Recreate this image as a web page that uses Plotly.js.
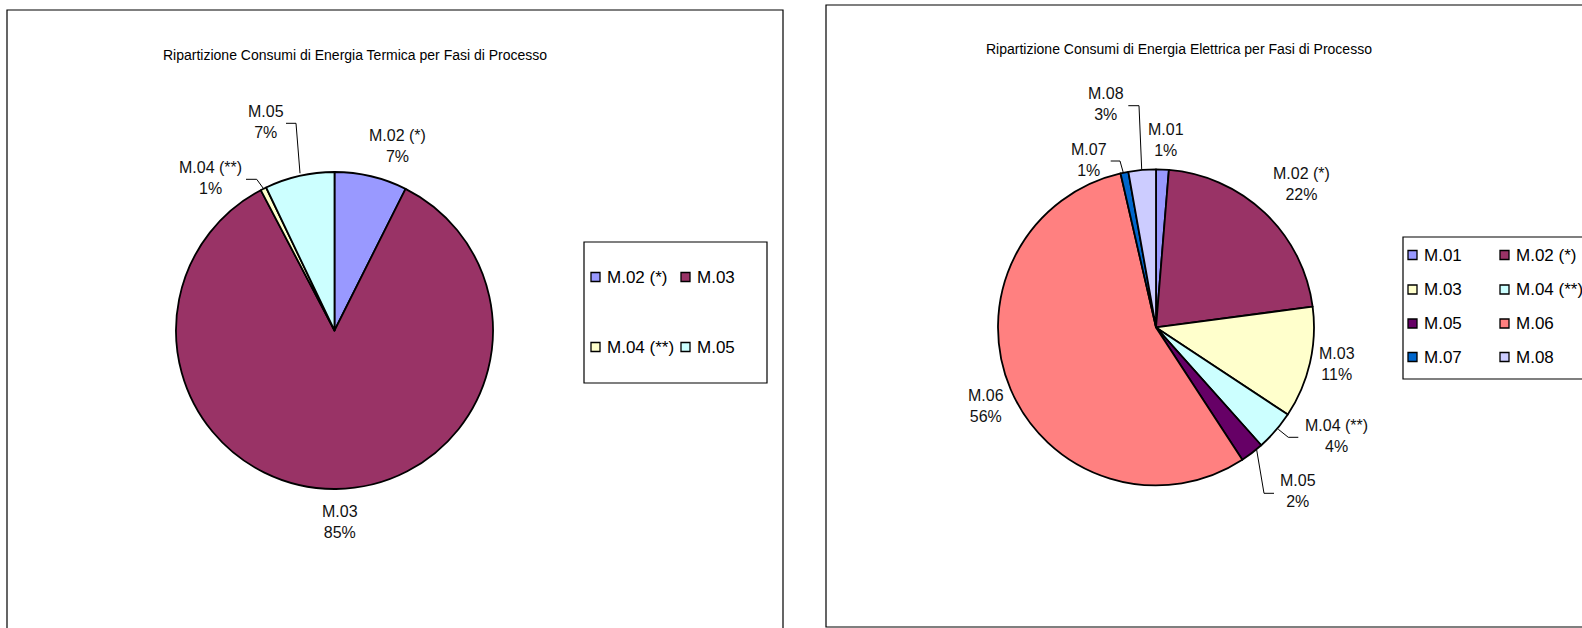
<!DOCTYPE html>
<html>
<head>
<meta charset="utf-8">
<script src="https://cdn.plot.ly/plotly-3.0.1.min.js"></script>
<style>
  html, body { margin: 0; padding: 0; background: #ffffff; }
  #chart { width: 1582px; height: 628px; }
</style>
</head>
<body>
<div id="chart"></div>
<script>
// ---------------- DATA ----------------
const titleTermica = "Ripartizione Consumi di Energia Termica per Fasi di Processo";
const titleElettrica = "Ripartizione Consumi di Energia Elettrica per Fasi di Processo";

const termicaLabels = ["M.02 (*)", "M.03", "M.04 (**)", "M.05"];
const termicaValues = [7.4, 84.9, 0.6, 7.1];

const elettricaLabels = ["M.01", "M.02 (*)", "M.03", "M.04 (**)", "M.05", "M.06", "M.07", "M.08"];
const elettricaValues = [1.3, 21.6, 11.4, 4.1, 2.4, 55.6, 0.8, 2.8];

// ---------------- STYLE / LAYOUT CONFIG ----------------
const W = 1582, H = 628;
const FONT = "Liberation Sans, Arial, sans-serif";
const termicaColors = ["#9999FF", "#993366", "#FFFFCC", "#CCFFFF"];
const elettricaColors = termicaColors.concat(["#660066", "#FF8080", "#0066CC", "#CCCCFF"]);

const X = px => px / W;
const Y = py => 1 - py / H;

const pieL = { cx: 334.5, cy: 330.5, r: 158.5 };
const pieR = { cx: 1156, cy: 327.4, r: 158 };

function domainOf(p) {
  return { x: [X(p.cx - p.r), X(p.cx + p.r)], y: [Y(p.cy + p.r), Y(p.cy - p.r)] };
}

// label block centres (pixels), in the order of the data
const termicaLabelPos = [[397, 146], [340, 522], [210, 178.5], [265.5, 122]];
const elettricaLabelPos = [[1166, 140], [1301, 184], [1337, 364], [1336, 436], [1297.5, 491], [986, 406], [1089, 160], [1106, 104]];

// leader lines (pixels)
const leaders = [
  [[286, 123.3], [296, 123.3], [300, 173.3]],
  [[246, 179.3], [256.7, 179.3], [264, 189.3]],
  [[1128.3, 105.7], [1139, 105.7], [1141.7, 169.3]],
  [[1110.7, 161], [1120, 161], [1123.3, 172.7]],
  [[1278.3, 429.3], [1288.3, 437.3], [1298.3, 437.3]],
  [[1256.7, 450], [1264, 493.3], [1274, 493.3]]
];

// legend geometry (pixels)
const legendL = { box: [584, 242, 767, 383], colX: [591, 681], rowY: [277, 347], cols: 2 };
const legendR = { box: [1403, 237, 1620, 379], colX: [1408, 1500], rowY: [255, 289.5, 323.5, 357], cols: 2 };

// ---------------- BUILD ----------------
function pieTrace(labels, values, colors, p) {
  return {
    type: "pie",
    labels: labels,
    values: values,
    sort: false,
    direction: "clockwise",
    rotation: 0,
    domain: domainOf(p),
    marker: { colors: colors, line: { color: "#000000", width: 1.8 } },
    textinfo: "none",
    showlegend: false,
    hovertemplate: "%{label}: %{percent}<extra></extra>"
  };
}

const shapes = [];
const annotations = [];

// chart frames
shapes.push({ type: "rect", xref: "paper", yref: "paper", x0: X(7), x1: X(783), y0: Y(640), y1: Y(10),
  line: { color: "#000000", width: 1.2 }, fillcolor: "rgba(0,0,0,0)" });
shapes.push({ type: "rect", xref: "paper", yref: "paper", x0: X(826), x1: X(1600), y0: Y(627), y1: Y(5),
  line: { color: "#000000", width: 1.2 }, fillcolor: "rgba(0,0,0,0)" });

// titles
annotations.push({ xref: "paper", yref: "paper", x: X(355), y: Y(55), text: titleTermica, showarrow: false,
  xanchor: "center", yanchor: "middle", font: { family: FONT, size: 14, color: "#000000" } });
annotations.push({ xref: "paper", yref: "paper", x: X(1179), y: Y(48.5), text: titleElettrica, showarrow: false,
  xanchor: "center", yanchor: "middle", font: { family: FONT, size: 14, color: "#000000" } });

// data labels
function addLabels(labels, values, pos) {
  const total = values.reduce((a, b) => a + b, 0);
  labels.forEach((lab, i) => {
    const pct = Math.round(values[i] / total * 100);
    annotations.push({ xref: "paper", yref: "paper", x: X(pos[i][0]), y: Y(pos[i][1]),
      text: lab + "<br>" + pct + "%", showarrow: false, xanchor: "center", yanchor: "middle", align: "center",
      font: { family: FONT, size: 16, color: "#111111" } });
  });
}
addLabels(termicaLabels, termicaValues, termicaLabelPos);
addLabels(elettricaLabels, elettricaValues, elettricaLabelPos);

// leader lines
leaders.forEach(pts => {
  const path = pts.map((p, i) => (i ? "L" : "M") + X(p[0]) + "," + Y(p[1])).join(" ");
  shapes.push({ type: "path", xref: "paper", yref: "paper", path: path, line: { color: "#000000", width: 1 } });
});

// legends
function addLegend(labels, colors, g) {
  shapes.push({ type: "rect", xref: "paper", yref: "paper", x0: X(g.box[0]), x1: X(g.box[2]), y0: Y(g.box[3]), y1: Y(g.box[1]),
    line: { color: "#000000", width: 1.2 }, fillcolor: "#ffffff", layer: "below" });
  labels.forEach((lab, i) => {
    const c = i % g.cols, r = Math.floor(i / g.cols);
    const sx = g.colX[c], sy = g.rowY[r];
    shapes.push({ type: "rect", xref: "paper", yref: "paper", x0: X(sx), x1: X(sx + 9), y0: Y(sy + 4.5), y1: Y(sy - 4.5),
      line: { color: "#000000", width: 1.3 }, fillcolor: colors[i] });
    annotations.push({ xref: "paper", yref: "paper", x: X(sx + 14), y: Y(sy), text: lab, showarrow: false,
      xanchor: "left", yanchor: "middle", font: { family: FONT, size: 17, color: "#000000" } });
  });
}
addLegend(termicaLabels, termicaColors, legendL);
addLegend(elettricaLabels, elettricaColors, legendR);

const layout = {
  width: W, height: H,
  margin: { l: 0, r: 0, t: 0, b: 0, pad: 0 },
  paper_bgcolor: "#ffffff",
  plot_bgcolor: "#ffffff",
  showlegend: false,
  shapes: shapes,
  annotations: annotations,
  font: { family: FONT }
};

Plotly.newPlot("chart", [
  pieTrace(termicaLabels, termicaValues, termicaColors, pieL),
  pieTrace(elettricaLabels, elettricaValues, elettricaColors, pieR)
], layout, { displayModeBar: false, staticPlot: true });
</script>
</body>
</html>
